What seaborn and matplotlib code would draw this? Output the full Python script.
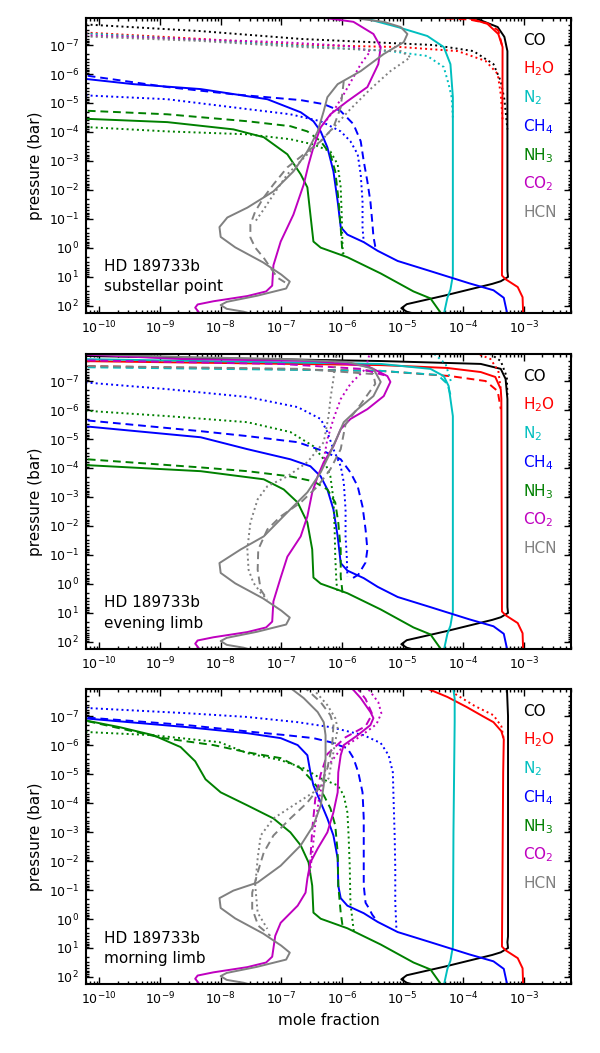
import numpy as np
import pandas as pd
import matplotlib
matplotlib.use('Agg')
import matplotlib.pyplot as plt
import seaborn as sns
from matplotlib.ticker import FixedLocator, NullFormatter, LogFormatterSciNotation

# valores: pares (log10 fraccion molar, log10 presion en bar)

# parte profunda, igual en los tres paneles
deep_co = [(-3.27, 0.8), (-3.26, 1.0), (-3.38, 1.15), (-3.52, 1.24), (-4.3, 1.64),
           (-4.93, 1.94), (-5.02, 2.08), (-4.93, 2.2), (-4.75, 2.3)]
deep_h2o = [(-3.36, 0.95), (-3.30, 1.08), (-3.10, 1.35), (-3.02, 1.7), (-3.01, 2.3)]
deep_n2 = [(-4.17, 0.95), (-4.21, 1.44), (-4.26, 1.72), (-4.32, 2.3)]
deep_ch4 = [(-6.02, -0.72), (-5.91, -0.46), (-5.64, -0.2), (-5.41, 0.1), (-5.08, 0.45),
            (-4.54, 0.8), (-3.9, 1.22), (-3.50, 1.46), (-3.33, 1.72), (-3.27, 2.3)]
deep_nh3 = [(-6.47, -0.22), (-6.35, -0.01), (-5.91, 0.32), (-5.36, 0.88), (-4.82, 1.5),
            (-4.54, 1.74), (-4.35, 2.3)]
deep_co2 = [(-7.01, -0.22), (-7.13, 0.6), (-7.15, 1.3), (-7.25, 1.5), (-7.56, 1.66),
            (-8.12, 1.84), (-8.38, 1.95), (-8.42, 2.06), (-8.33, 2.3)]
deep_hcn = [(-8.02, -0.72), (-8.0, -0.38), (-7.76, -0.02), (-7.3, 0.5), (-7.0, 0.92),
            (-6.86, 1.16), (-6.92, 1.4), (-7.4, 1.65), (-7.9, 1.86), (-8.0, 1.97),
            (-7.9, 2.1), (-7.62, 2.2), (-7.45, 2.3)]

# panel 1: substellar point
sub_co = [(-3.95, -8.05), (-3.43, -7.62), (-3.32, -7.28), (-3.27, -6.79)] + deep_co
sub_co_dot = [(-10.4, -7.73), (-8.33, -7.48), (-6.68, -7.21), (-4.49, -7.0), (-3.83, -6.79),
              (-3.50, -6.34), (-3.38, -5.75), (-3.32, -5.13), (-3.27, -4.09)]
sub_h2o = [(-4.1, -8.05), (-3.60, -7.73), (-3.42, -7.38), (-3.35, -6.93)] + deep_h2o
sub_h2o_dash = [(-4.7, -7.96), (-3.9, -7.88), (-3.6, -7.75), (-3.42, -7.5), (-3.36, -7.0)]
sub_h2o_dot = [(-10.4, -7.45), (-8.33, -7.21), (-6.68, -7.0), (-5.03, -6.93), (-4.09, -6.79),
               (-3.63, -6.45), (-3.43, -6.0), (-3.38, -5.30), (-3.35, -4.44)]
sub_n2 = [(-5.8, -8.05), (-5.58, -7.90), (-5.08, -7.62), (-4.59, -7.31), (-4.32, -6.93),
          (-4.21, -6.34), (-4.17, -5.20)] + deep_n2
sub_n2_dot = [(-10.4, -7.42), (-8.33, -7.17), (-6.68, -6.97), (-5.20, -6.79), (-4.59, -6.62),
              (-4.32, -6.24), (-4.24, -5.65), (-4.19, -5.20), (-4.17, -4.5)]
sub_ch4 = [(-10.4, -5.87), (-9.44, -5.65), (-8.33, -5.48), (-7.23, -5.13), (-6.68, -4.68),
           (-6.47, -4.37), (-6.35, -4.02), (-6.24, -3.47), (-6.14, -2.64), (-6.07, -1.60)] + deep_ch4
sub_ch4_dash = [(-10.4, -6.0), (-8.88, -5.55), (-7.79, -5.30), (-6.68, -5.10), (-6.30, -4.96),
                (-6.02, -4.72), (-5.81, -4.27), (-5.69, -3.68), (-5.64, -2.99), (-5.58, -2.29),
                (-5.53, -1.60), (-5.50, -0.91), (-5.48, -0.39), (-5.45, -0.05), (-5.41, 0.1)]
sub_ch4_dot = [(-10.4, -5.28), (-8.88, -5.13), (-7.56, -4.79), (-6.85, -4.61), (-6.35, -4.37),
               (-6.02, -4.02), (-5.86, -3.68), (-5.74, -3.23), (-5.69, -2.54), (-5.66, -1.60),
               (-5.66, -0.70), (-5.64, -0.2)]
sub_nh3 = [(-10.4, -4.47), (-8.88, -4.34), (-7.79, -4.09), (-7.29, -3.82), (-6.90, -3.23),
           (-6.68, -2.54), (-6.57, -2.09), (-6.52, -1.15)] + deep_nh3
sub_nh3_dash = [(-10.4, -4.75), (-8.88, -4.61), (-7.56, -4.37), (-6.85, -4.20), (-6.57, -4.02),
                (-6.35, -3.68), (-6.19, -3.23), (-6.11, -2.64), (-6.06, -1.74), (-6.02, -0.70),
                (-5.99, 0.23)]
sub_nh3_dot = [(-10.4, -4.19), (-8.88, -4.02), (-7.56, -3.92), (-6.85, -3.75), (-6.47, -3.57),
               (-6.19, -3.33), (-6.07, -2.88), (-6.02, -2.09), (-6.0, -0.91), (-5.99, -0.01),
               (-5.97, 0.28)]
sub_co2 = [(-6.6, -8.05), (-6.40, -7.97), (-5.81, -7.80), (-5.48, -7.38), (-5.36, -6.93),
           (-5.40, -6.34), (-5.58, -5.55), (-5.91, -5.06), (-6.19, -4.61), (-6.35, -4.16),
           (-6.47, -3.47), (-6.55, -2.88), (-6.63, -2.19), (-6.80, -1.15)] + deep_co2
sub_co2_dot = [(-10.4, -7.35), (-8.66, -7.21), (-7.01, -7.10), (-5.91, -6.97), (-5.53, -6.79),
               (-5.69, -6.34), (-5.81, -5.89), (-5.97, -5.30), (-6.14, -4.72), (-6.32, -4.23)]
sub_hcn = [(-5.9, -8.05), (-5.69, -7.90), (-5.31, -7.80), (-5.03, -7.62), (-4.92, -7.38),
           (-4.98, -7.10), (-5.31, -6.69), (-5.69, -6.10), (-6.07, -5.65), (-6.24, -5.20),
           (-6.30, -4.72), (-6.40, -4.02), (-6.57, -3.33), (-6.80, -2.64), (-7.13, -1.95),
           (-7.56, -1.39), (-7.89, -1.05)] + deep_hcn
sub_hcn_dash = [(-5.97, -5.75), (-6.02, -4.85), (-6.14, -4.16), (-6.35, -3.68), (-6.63, -3.23),
                (-6.90, -2.78), (-7.13, -2.19), (-7.29, -1.74), (-7.43, -1.26), (-7.51, -0.81),
                (-7.51, -0.36), (-7.43, -0.01), (-7.29, 0.34), (-7.18, 0.68), (-7.06, 1.03),
                (-6.93, 1.20)]
sub_hcn_dot = [(-10.4, -7.31), (-8.33, -7.14), (-6.68, -6.93), (-5.03, -6.79), (-4.87, -6.58),
               (-5.20, -6.10), (-5.53, -5.48), (-5.86, -4.79), (-6.24, -3.92), (-6.57, -3.23),
               (-6.90, -2.54), (-7.13, -1.84), (-7.29, -1.33), (-7.43, -0.91)]

# panel 2: evening limb
eve_co = [(-10.4, -7.87), (-5.36, -7.69), (-3.71, -7.59), (-3.38, -7.42), (-3.30, -7.07),
          (-3.27, -6.38)] + deep_co
eve_co_dot = [(-3.63, -8.05), (-3.38, -7.69), (-3.28, -7.14), (-3.27, -6.5)]
eve_h2o = [(-10.4, -7.69), (-5.36, -7.55), (-4.26, -7.45), (-3.71, -7.31), (-3.47, -7.14),
           (-3.38, -6.72), (-3.37, -6.38)] + deep_h2o
eve_h2o_dash = [(-10.4, -7.52), (-5.36, -7.35), (-4.21, -7.17), (-3.63, -7.0), (-3.43, -6.65),
                (-3.38, -6.03)]
eve_h2o_dot = [(-3.88, -8.05), (-3.55, -7.76), (-3.42, -7.35), (-3.38, -6.72)]
eve_n2 = [(-10.4, -7.76), (-5.36, -7.59), (-4.54, -7.42), (-4.32, -7.17), (-4.24, -6.83),
          (-4.17, -5.79)] + deep_n2
eve_n2_dash = [(-10.4, -7.48), (-5.36, -7.35), (-4.42, -7.21), (-4.26, -6.90), (-4.19, -6.38)]
eve_n2_dot = [(-4.54, -8.05), (-4.29, -7.59), (-4.19, -6.9)]
eve_ch4 = [(-10.4, -5.47), (-8.33, -5.06), (-7.56, -4.65), (-6.85, -4.30), (-6.52, -4.06),
           (-6.35, -3.71), (-6.24, -3.26), (-6.14, -2.57), (-6.07, -1.64)] + deep_ch4
eve_ch4_dash = [(-10.4, -5.68), (-8.33, -5.27), (-7.56, -5.10), (-6.73, -4.89), (-6.30, -4.58),
                (-6.02, -4.30), (-5.86, -3.85), (-5.74, -3.37), (-5.66, -2.67), (-5.61, -1.88),
                (-5.58, -1.19), (-5.61, -0.74), (-5.73, -0.32), (-5.86, -0.15)]
eve_ch4_dot = [(-10.4, -6.98), (-8.88, -6.72), (-7.56, -6.45), (-6.73, -6.10), (-6.35, -5.69),
               (-6.24, -5.24), (-6.14, -4.65), (-6.02, -4.06), (-5.97, -3.51), (-5.94, -2.57),
               (-5.94, -1.64), (-5.92, -0.94), (-5.91, -0.25)]
eve_nh3 = [(-10.4, -4.12), (-8.33, -3.89), (-7.29, -3.61), (-6.96, -3.26), (-6.73, -2.81),
           (-6.57, -2.12), (-6.49, -1.19)] + deep_nh3
eve_nh3_dash = [(-10.4, -4.33), (-8.33, -4.02), (-7.56, -3.89), (-6.85, -3.71), (-6.47, -3.54),
                (-6.24, -3.26), (-6.11, -2.81), (-6.06, -2.12), (-6.02, -1.19), (-6.02, -0.25),
                (-5.99, 0.30)]
eve_nh3_dot = [(-10.4, -6.0), (-8.88, -5.79), (-7.56, -5.58), (-6.85, -5.24), (-6.47, -4.75),
               (-6.30, -4.30), (-6.19, -3.71), (-6.14, -2.92), (-6.12, -1.88), (-6.11, -0.94),
               (-6.09, -0.04), (-6.07, 0.30)]
eve_co2 = [(-10.4, -7.93), (-8.66, -7.76), (-6.47, -7.69), (-5.58, -7.52), (-5.25, -7.17),
           (-5.20, -6.97), (-5.31, -6.48), (-5.58, -6.03), (-5.86, -5.69), (-6.02, -5.34),
           (-6.14, -4.75), (-6.30, -4.20), (-6.40, -3.71), (-6.49, -3.16), (-6.57, -2.33),
           (-6.68, -1.64), (-6.90, -0.94)] + deep_co2
eve_co2_dash = [(-10.4, -7.72), (-7.01, -7.59), (-5.69, -7.42), (-5.3, -7.2)]
eve_co2_dot = [(-5.53, -8.05), (-5.61, -7.42), (-5.86, -6.90), (-6.02, -6.38), (-6.14, -5.69),
               (-6.24, -4.99), (-6.30, -4.30)]
eve_hcn = [(-10.4, -7.95), (-8.66, -7.83), (-7.01, -7.76), (-5.91, -7.66), (-5.48, -7.42),
           (-5.36, -6.97), (-5.48, -6.48), (-5.74, -6.03), (-5.97, -5.58), (-6.07, -5.10),
           (-6.19, -4.54), (-6.35, -3.85), (-6.57, -3.16), (-6.90, -2.47), (-7.29, -1.64),
           (-7.67, -1.19)] + deep_hcn
eve_hcn_dash = [(-10.4, -7.52), (-6.68, -7.42), (-5.48, -7.24), (-5.45, -6.90), (-5.69, -6.20),
                (-5.94, -5.51), (-6.02, -4.65), (-6.19, -3.96), (-6.40, -3.37), (-6.68, -2.81),
                (-7.01, -2.33), (-7.23, -1.88), (-7.38, -1.19), (-7.39, -0.49), (-7.34, 0.20),
                (-7.23, 0.54)]
eve_hcn_dot = [(-6.09, -8.05), (-6.14, -7.07), (-6.19, -6.38), (-6.22, -5.79), (-6.30, -4.89),
               (-6.57, -4.20), (-6.90, -3.71), (-7.23, -3.37), (-7.39, -2.92), (-7.51, -2.12),
               (-7.56, -1.19), (-7.54, -0.49), (-7.46, -0.04), (-7.34, 0.30), (-7.23, 0.54)]

# panel 3: morning limb
morn_co = [(-3.28, -8.05), (-3.26, -7.0), (-3.26, 0.6)] + deep_co
morn_h2o = [(-4.65, -8.05), (-4.57, -7.93), (-4.26, -7.66), (-3.94, -7.31), (-3.68, -7.0),
            (-3.50, -6.79), (-3.37, -6.48), (-3.33, -6.20), (-3.34, -5.06)] + deep_h2o
morn_h2o_dot = [(-4.13, -7.76), (-3.81, -7.35), (-3.50, -7.03), (-3.37, -6.65), (-3.33, -6.2)]
morn_n2 = [(-4.17, -8.05), (-4.14, -7.6), (-4.14, -6.8), (-4.16, -3.0)] + deep_n2
morn_ch4 = [(-10.4, -6.95), (-8.56, -6.62), (-7.56, -6.41), (-7.01, -6.24), (-6.73, -6.0),
            (-6.57, -5.65), (-6.52, -5.06), (-6.47, -4.61), (-6.35, -4.02), (-6.24, -3.47),
            (-6.14, -2.88), (-6.07, -2.09), (-6.06, -1.15)] + deep_ch4
morn_ch4_dash = [(-10.4, -6.98), (-8.56, -6.69), (-7.46, -6.45), (-6.91, -6.34), (-6.47, -6.24),
                 (-6.19, -6.10), (-5.91, -5.89), (-5.81, -5.55), (-5.73, -5.06), (-5.66, -4.37),
                 (-5.64, -3.47), (-5.64, -2.29), (-5.64, -1.15), (-5.61, -0.56), (-5.56, -0.39),
                 (-5.50, -0.15), (-5.41, 0.1)]
morn_ch4_dot = [(-10.4, -7.3), (-8.56, -7.10), (-7.56, -6.97), (-6.73, -6.79), (-6.19, -6.62),
                (-5.64, -6.34), (-5.36, -6.07), (-5.23, -5.65), (-5.16, -5.06), (-5.15, -4.27),
                (-5.13, -2.88), (-5.12, -1.74), (-5.12, -0.56), (-5.10, 0.40)]
morn_nh3 = [(-10.4, -6.92), (-9.67, -6.62), (-9.11, -6.34), (-8.66, -5.93), (-8.42, -5.44),
            (-8.25, -4.82), (-8.0, -4.37), (-7.56, -3.92), (-7.13, -3.47), (-6.85, -2.99),
            (-6.68, -2.54), (-6.55, -1.95), (-6.49, -1.15)] + deep_nh3
morn_nh3_dash = [(-10.4, -6.92), (-9.67, -6.58), (-8.94, -6.24), (-8.12, -6.0), (-7.56, -5.75),
                 (-7.01, -5.55), (-6.68, -5.20), (-6.47, -4.72), (-6.30, -4.27), (-6.19, -3.82),
                 (-6.11, -3.23), (-6.07, -2.29), (-6.06, -1.15), (-6.02, -0.22), (-5.99, 0.23)]
morn_nh3_dot = [(-10.4, -6.47), (-9.11, -6.34), (-8.02, -6.10), (-7.56, -5.72), (-7.01, -5.48),
                (-6.63, -5.20), (-6.35, -4.85), (-6.07, -4.61), (-5.97, -4.27), (-5.91, -3.68),
                (-5.89, -2.88), (-5.87, -1.74), (-5.86, -0.56), (-5.80, 0.5)]
morn_co2 = [(-5.9, -8.05), (-5.81, -7.90), (-5.69, -7.62), (-5.53, -7.14), (-5.48, -6.93),
            (-5.53, -6.69), (-5.74, -6.34), (-5.97, -6.0), (-6.02, -5.65), (-6.06, -5.06),
            (-6.07, -4.37), (-6.14, -3.68), (-6.24, -2.99), (-6.40, -2.43), (-6.52, -1.95),
            (-6.57, -1.39), (-6.60, -0.91), (-6.73, -0.46), (-7.01, 0.13), (-7.10, 0.58),
            (-7.15, 1.3), (-7.25, 1.5), (-7.56, 1.66), (-8.12, 1.84), (-8.38, 1.95),
            (-8.42, 2.06), (-8.33, 2.3)]
morn_co2_dash = [(-5.78, -8.05), (-5.61, -7.59), (-5.50, -7.07), (-5.61, -6.65), (-5.94, -6.27),
                 (-6.24, -5.69), (-6.35, -4.99), (-6.44, -4.13), (-6.49, -3.09), (-6.52, -2.05),
                 (-6.55, -1.5)]
morn_co2_dot = [(-5.61, -8.05), (-5.40, -7.48), (-5.35, -7.10), (-5.43, -6.72), (-5.69, -6.31),
                (-6.02, -5.86), (-6.27, -5.17), (-6.38, -4.13), (-6.45, -3.09), (-6.50, -2.05),
                (-6.53, -1.6)]
morn_hcn = [(-6.95, -8.05), (-6.85, -7.97), (-6.63, -7.62), (-6.40, -7.14), (-6.30, -6.79),
            (-6.27, -6.34), (-6.27, -5.55), (-6.30, -4.61), (-6.35, -3.92), (-6.47, -3.23),
            (-6.68, -2.54), (-7.01, -1.84), (-7.39, -1.26), (-7.79, -0.98)] + deep_hcn
morn_hcn_dash = [(-6.65, -8.05), (-6.57, -7.90), (-6.35, -7.48), (-6.19, -7.03), (-6.14, -6.69),
                 (-6.16, -6.0), (-6.24, -5.20), (-6.35, -4.61), (-6.57, -4.02), (-6.85, -3.47),
                 (-7.13, -2.88), (-7.29, -2.29), (-7.39, -1.60), (-7.48, -0.91), (-7.48, -0.36),
                 (-7.38, 0.23), (-7.18, 0.58)]
morn_hcn_dot = [(-6.55, -8.05), (-6.49, -7.97), (-6.24, -7.38), (-6.11, -6.93), (-6.07, -6.58),
                (-6.14, -5.75), (-6.22, -4.85), (-6.47, -4.37), (-6.80, -3.92), (-7.13, -3.47),
                (-7.34, -2.88), (-7.39, -2.09), (-7.43, -1.15), (-7.39, -0.22), (-7.23, 0.34)]

species = ['CO', 'H2O', 'N2', 'CH4', 'NH3', 'CO2', 'HCN']
species_labels = ['CO', r'H$_2$O', r'N$_2$', r'CH$_4$', r'NH$_3$', r'CO$_2$', 'HCN']
colores = ['k', 'r', 'c', 'b', 'g', 'm', 'gray']
paneles = ['sub', 'eve', 'morn']
panel_lineas = [['HD 189733b', 'substellar point'],
                ['HD 189733b', 'evening limb'],
                ['HD 189733b', 'morning limb']]
xticks = [1e-10, 1e-9, 1e-8, 1e-7, 1e-6, 1e-5, 1e-4, 1e-3]
yticks = [1e-7, 1e-6, 1e-5, 1e-4, 1e-3, 1e-2, 1e-1, 1e0, 1e1, 1e2]

curvas = [
    ('sub', 'CO', 'solid', sub_co), ('sub', 'CO', 'dotted', sub_co_dot),
    ('sub', 'H2O', 'solid', sub_h2o), ('sub', 'H2O', 'dashed', sub_h2o_dash),
    ('sub', 'H2O', 'dotted', sub_h2o_dot),
    ('sub', 'N2', 'solid', sub_n2), ('sub', 'N2', 'dotted', sub_n2_dot),
    ('sub', 'CH4', 'solid', sub_ch4), ('sub', 'CH4', 'dashed', sub_ch4_dash),
    ('sub', 'CH4', 'dotted', sub_ch4_dot),
    ('sub', 'NH3', 'solid', sub_nh3), ('sub', 'NH3', 'dashed', sub_nh3_dash),
    ('sub', 'NH3', 'dotted', sub_nh3_dot),
    ('sub', 'CO2', 'solid', sub_co2), ('sub', 'CO2', 'dotted', sub_co2_dot),
    ('sub', 'HCN', 'solid', sub_hcn), ('sub', 'HCN', 'dashed', sub_hcn_dash),
    ('sub', 'HCN', 'dotted', sub_hcn_dot),
    ('eve', 'CO', 'solid', eve_co), ('eve', 'CO', 'dotted', eve_co_dot),
    ('eve', 'H2O', 'solid', eve_h2o), ('eve', 'H2O', 'dashed', eve_h2o_dash),
    ('eve', 'H2O', 'dotted', eve_h2o_dot),
    ('eve', 'N2', 'solid', eve_n2), ('eve', 'N2', 'dashed', eve_n2_dash),
    ('eve', 'N2', 'dotted', eve_n2_dot),
    ('eve', 'CH4', 'solid', eve_ch4), ('eve', 'CH4', 'dashed', eve_ch4_dash),
    ('eve', 'CH4', 'dotted', eve_ch4_dot),
    ('eve', 'NH3', 'solid', eve_nh3), ('eve', 'NH3', 'dashed', eve_nh3_dash),
    ('eve', 'NH3', 'dotted', eve_nh3_dot),
    ('eve', 'CO2', 'solid', eve_co2), ('eve', 'CO2', 'dashed', eve_co2_dash),
    ('eve', 'CO2', 'dotted', eve_co2_dot),
    ('eve', 'HCN', 'solid', eve_hcn), ('eve', 'HCN', 'dashed', eve_hcn_dash),
    ('eve', 'HCN', 'dotted', eve_hcn_dot),
    ('morn', 'CO', 'solid', morn_co),
    ('morn', 'H2O', 'solid', morn_h2o), ('morn', 'H2O', 'dotted', morn_h2o_dot),
    ('morn', 'N2', 'solid', morn_n2),
    ('morn', 'CH4', 'solid', morn_ch4), ('morn', 'CH4', 'dashed', morn_ch4_dash),
    ('morn', 'CH4', 'dotted', morn_ch4_dot),
    ('morn', 'NH3', 'solid', morn_nh3), ('morn', 'NH3', 'dashed', morn_nh3_dash),
    ('morn', 'NH3', 'dotted', morn_nh3_dot),
    ('morn', 'CO2', 'solid', morn_co2), ('morn', 'CO2', 'dashed', morn_co2_dash),
    ('morn', 'CO2', 'dotted', morn_co2_dot),
    ('morn', 'HCN', 'solid', morn_hcn), ('morn', 'HCN', 'dashed', morn_hcn_dash),
    ('morn', 'HCN', 'dotted', morn_hcn_dot),
]

# tabla larga
filas = []
for k, (panel, sp, modelo, pts) in enumerate(curvas):
    for lx, lp in pts:
        filas.append((panel, sp, modelo, k, lx, lp))
df = pd.DataFrame(filas, columns=['panel', 'species', 'model', 'curve', 'lx', 'lp'])
df['x'] = 10.0 ** df['lx']
df['p'] = 10.0 ** df['lp']

sns.set_style('ticks')
plt.rcParams['font.family'] = ['DejaVu Sans']
plt.rcParams['mathtext.fontset'] = 'dejavusans'
plt.rcParams['text.color'] = 'k'
plt.rcParams['axes.labelcolor'] = 'k'

paleta = dict(zip(species, colores))
guiones = {'solid': '', 'dashed': (4, 2.5), 'dotted': (1, 1.65)}

# ticks menores en 2..9 de cada decada
minor_x = [m * 10.0 ** e for e in range(-11, -2) for m in range(2, 10)]
minor_y = [m * 10.0 ** e for e in range(-8, 3) for m in range(2, 10)]

fig = plt.figure(figsize=(6, 10.53), dpi=100)
bottoms = [0.7028, 0.3837, 0.0655]

for i, panel in enumerate(paneles):
    ax = fig.add_axes([0.1433, bottoms[i], 0.8083, 0.2801])
    ax.set_xscale('log')
    ax.set_yscale('log')
    d = df[df['panel'] == panel]
    sns.lineplot(data=d, x='x', y='p', hue='species', style='model', units='curve',
                 estimator=None, sort=False, palette=paleta, hue_order=species,
                 dashes=guiones, style_order=['solid', 'dashed', 'dotted'],
                 lw=1.4, legend=False, ax=ax)
    ax.set_xlim(6e-11, 6e-3)
    ax.set_ylim(1.75e2, 1.17e-8)

    ax.xaxis.set_major_locator(FixedLocator(xticks))
    ax.yaxis.set_major_locator(FixedLocator(yticks))
    ax.xaxis.set_major_formatter(LogFormatterSciNotation())
    ax.yaxis.set_major_formatter(LogFormatterSciNotation())
    ax.xaxis.set_minor_locator(FixedLocator(minor_x))
    ax.yaxis.set_minor_locator(FixedLocator(minor_y))
    ax.xaxis.set_minor_formatter(NullFormatter())
    ax.yaxis.set_minor_formatter(NullFormatter())
    ax.tick_params(which='both', direction='in', top=True, right=True, labelsize=9,
                   width=1, color='k', labelcolor='k')
    ax.tick_params(which='major', length=5, pad=5)
    ax.tick_params(which='minor', length=2.5)
    for s in ax.spines.values():
        s.set_linewidth(1.5)
        s.set_color('k')

    ax.set_ylabel('pressure (bar)', fontsize=11, labelpad=4)
    if i == 2:
        ax.set_xlabel('mole fraction', fontsize=11, labelpad=4)
    else:
        ax.set_xlabel('')

    # leyenda como texto coloreado
    for j, (lab, c) in enumerate(zip(species_labels, colores)):
        ax.text(0.902, 0.925 - j * 0.0975, lab, color=c, fontsize=11,
                transform=ax.transAxes, ha='left', va='center')

    ax.text(0.037, 0.156, panel_lineas[i][0], fontsize=11, color='k',
            transform=ax.transAxes, ha='left', va='center')
    ax.text(0.037, 0.088, panel_lineas[i][1], fontsize=11, color='k',
            transform=ax.transAxes, ha='left', va='center')

fig.savefig('out.png', dpi=100)
